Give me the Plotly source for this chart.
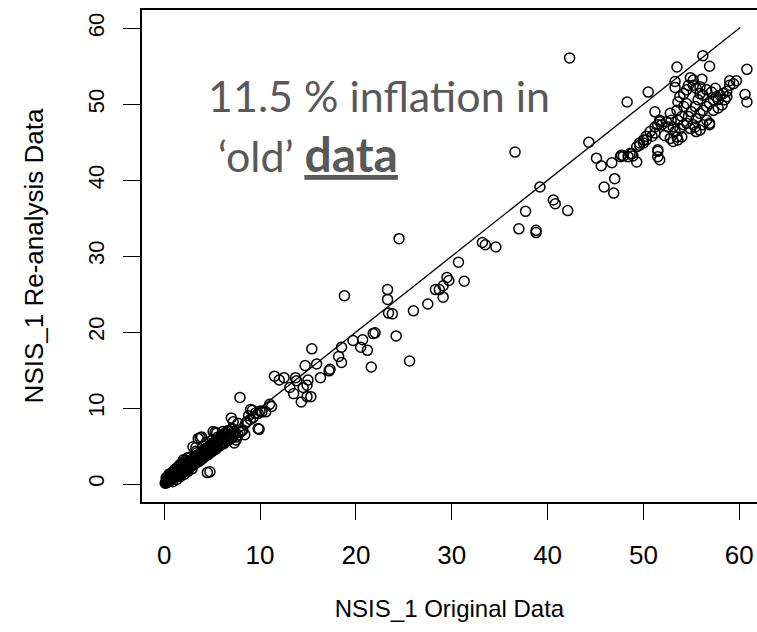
import plotly.graph_objects as go

# NSIS_1 original (x) vs re-analysis (y) values
band_x = [0.1, 0.15, 0.2, 0.25, 0.3, 0.35, 0.4, 0.45, 0.5, 0.55, 0.6, 0.65, 0.7, 0.75, 0.8, 0.85,
          0.9, 0.95, 1.0, 1.05, 1.1, 1.15, 1.2, 1.25, 1.3, 1.35, 1.4, 1.45, 1.5, 1.55, 1.6, 1.65,
          1.7, 1.75, 1.8, 1.85, 1.9, 1.95, 2.0, 2.05, 2.1, 2.15, 2.2, 2.3, 2.35, 2.4, 2.5, 2.55,
          2.6, 2.7, 2.75, 2.8, 2.9, 3.0, 3.05, 3.1, 3.2, 3.25, 3.3, 3.4, 3.45, 3.5, 3.6, 3.65,
          3.7, 3.8, 3.85, 3.9, 4.0, 4.05, 4.1, 4.2, 4.25, 4.3, 4.4, 4.45, 4.5, 4.6, 4.65, 4.7,
          4.8, 4.85, 4.9, 5.0, 5.05, 5.1, 5.2, 5.25, 5.3, 5.4, 5.5, 5.6, 5.7, 5.8, 5.9, 6.0,
          6.1, 6.2, 6.3, 6.4, 6.5, 6.6, 6.7, 6.8, 6.9, 7.0, 7.2, 7.4, 7.5, 7.7, 7.9, 8.1,
          2.5, 3.3, 4.0, 4.4, 5.6, 6.2, 6.6, 7.0, 6.0, 5.0, 3.55, 3.9, 5.47, 5.1, 2.0, 3.0, 4.77,
          8.5, 9.0, 9.5, 10.0, 8.8, 9.3,
          0.3, 0.5, 0.7, 0.9, 1.1, 1.3, 1.5, 1.7, 1.9, 2.1, 2.3, 2.5, 2.7, 2.9, 3.1, 3.3,
          3.5, 3.7, 3.9, 4.1, 4.3, 4.5, 4.7, 4.9, 5.1, 5.3, 5.5, 5.7, 5.9, 6.1, 6.3, 6.5,
          0.6, 1.0, 1.4, 1.8, 2.2, 2.6, 3.0, 3.4, 3.8, 4.2, 4.6, 5.0, 5.4, 5.8, 6.2, 6.6,
          1.2, 1.6, 2.0, 2.4, 2.8, 3.2, 3.6, 4.0, 4.4, 4.8, 5.2, 5.6, 6.0, 6.4, 6.8, 7.1,
          0.2, 0.4, 0.6, 0.8, 1.0, 1.2, 1.4, 1.6, 1.8, 2.0, 2.2, 2.4, 0.9, 1.3, 1.7, 2.1,
          2.5, 2.9, 0.5, 1.1, 1.6, 2.3, 2.8, 3.4]
band_y = [0.1, 0.2, 0.15, 0.3, 0.2, 0.35, 0.3, 0.5, 0.4, 0.45, 0.6, 0.5, 0.7, 0.55, 0.8, 0.65,
          0.9, 0.75, 1.0, 0.85, 1.2, 0.9, 1.1, 1.3, 1.0, 1.2, 1.4, 1.1, 1.5, 1.3, 1.6, 1.2,
          1.5, 1.8, 1.4, 1.7, 1.9, 1.5, 2.2, 1.7, 2.0, 2.4, 1.8, 2.1, 2.6, 1.9, 2.3, 2.8,
          2.1, 2.5, 3.0, 2.3, 2.7, 3.2, 2.5, 2.9, 3.4, 2.7, 3.1, 3.6, 2.9, 3.3, 3.8, 3.0,
          3.4, 4.0, 3.2, 3.6, 4.2, 3.4, 3.8, 4.4, 3.6, 4.0, 4.6, 3.8, 4.2, 4.8, 4.0, 4.4,
          5.0, 4.2, 4.6, 5.2, 4.4, 4.8, 5.4, 4.6, 5.0, 5.5, 4.9, 5.2, 5.7, 5.1, 5.4, 5.9,
          5.3, 5.6, 6.1, 5.5, 5.9, 6.3, 5.8, 6.1, 6.5, 6.0, 6.3, 6.7, 6.2, 6.5, 6.8, 7.0,
          3.5, 4.3, 5.0, 5.5, 6.2, 6.6, 7.0, 7.2, 6.4, 5.8, 6.0, 6.2, 6.7, 6.9, 3.2, 4.9, 1.6,
          8.0, 8.5, 9.3, 9.6, 9.0, 8.8,
          0.6, 0.8, 1.0, 1.2, 1.4, 1.6, 1.8, 2.0, 2.2, 2.4, 2.6, 2.8, 3.0, 3.2, 3.4, 3.6,
          3.8, 4.0, 4.2, 4.4, 4.6, 4.8, 5.0, 5.2, 5.4, 5.6, 5.8, 6.0, 6.2, 6.4, 6.6, 6.8,
          0.4, 0.8, 1.1, 1.5, 1.8, 2.2, 2.5, 2.9, 3.2, 3.6, 3.9, 4.3, 4.6, 5.0, 5.3, 5.7,
          1.4, 1.8, 2.3, 2.7, 3.1, 3.5, 3.9, 4.3, 4.7, 5.1, 5.5, 5.9, 6.3, 6.6, 6.9, 7.3,
          0.8, 1.0, 1.3, 1.5, 1.7, 2.0, 2.2, 2.4, 2.7, 2.9, 3.1, 3.4, 0.3, 0.6, 1.0, 1.3,
          1.7, 2.0, 1.3, 1.9, 2.5, 3.1, 3.6, 4.1]

mid_x = [7.9, 9.8, 9.9, 7.0, 7.2, 8.6, 8.2, 7.7, 8.4, 7.3, 7.5, 6.1, 5.3, 3.75, 3.3, 4.5,
         11.0, 11.2, 10.6, 10.2, 9.8, 9.2, 9.0,
         11.5, 12.0, 12.5, 13.7, 13.8, 15.0, 14.9, 14.5, 13.1, 13.5, 14.3, 14.9, 15.3,
         15.4, 14.7, 15.9, 17.3, 17.2, 16.3, 18.5, 18.2, 18.5, 18.8,
         19.7, 20.7, 20.5, 21.2, 21.6, 22.0, 21.8, 24.2, 25.6, 23.4, 23.8, 23.3, 23.3,
         26.0, 27.5, 29.1, 28.3, 28.7, 29.5, 29.7, 29.1, 31.3, 30.7, 24.5,
         33.2, 33.5, 34.6, 37.0, 38.8, 38.8, 37.7, 40.6, 40.8, 42.1, 39.2, 36.6,
         47.0, 45.9, 46.9, 45.1, 45.6, 46.7, 44.3, 42.3]
mid_y = [11.4, 7.3, 7.2, 8.7, 8.2, 8.2, 7.1, 8.0, 6.5, 5.4, 5.8, 6.9, 6.8, 6.1, 4.8, 1.5,
         10.5, 10.2, 9.5, 9.5, 9.3, 9.7, 9.8,
         14.2, 13.7, 14.0, 14.0, 13.6, 13.7, 13.0, 12.7, 12.7, 11.9, 10.8, 11.5, 11.5,
         17.8, 15.6, 15.8, 15.1, 14.9, 14.0, 18.0, 16.8, 16.0, 24.8,
         18.9, 19.0, 18.0, 17.6, 15.4, 19.9, 19.8, 19.5, 16.2, 22.5, 22.4, 25.6, 24.3,
         22.8, 23.7, 24.6, 25.6, 25.6, 27.2, 26.8, 26.1, 26.7, 29.2, 32.3,
         31.8, 31.5, 31.2, 33.6, 33.4, 33.1, 35.9, 37.4, 36.9, 36.0, 39.1, 43.7,
         40.2, 39.1, 38.3, 42.9, 41.9, 42.3, 45.0, 56.1]

top_x = [56.2, 56.9, 53.5, 60.8, 54.9, 53.3, 53.3, 56.1, 59.0, 59.7, 60.6, 60.8, 50.5, 48.3,
         47.6, 47.7, 48.6, 48.9, 49.3, 49.6, 50.0, 50.3, 50.9, 51.2, 51.5, 51.2, 51.7, 51.5, 51.5,
         52.8, 52.9, 53.1, 53.3, 53.5, 53.6, 54.0, 53.8, 53.6, 53.5, 53.6, 53.8, 54.2, 54.5,
         54.7, 55.2, 55.5, 55.9, 55.7, 55.4, 55.0, 54.7, 54.5, 54.9, 55.2, 55.5, 55.9, 56.2,
         56.6, 56.9, 57.3, 57.6, 58.0, 58.3, 58.7, 58.5, 58.2, 57.8, 57.3, 56.9, 56.6, 56.2,
         55.9, 55.5, 55.4, 54.2, 54.0, 53.1, 52.8, 52.2, 51.9, 51.7, 52.4, 52.6, 54.2, 54.5,
         56.2, 56.6, 57.1, 57.5, 57.8, 58.7, 59.0, 59.4, 51.2, 50.7, 50.3, 50.0, 49.6, 49.3,
         48.8, 48.4, 47.9, 51.5, 51.7, 56.9, 55.9, 55.2]
top_y = [56.4, 55.0, 54.9, 54.6, 53.5, 53.0, 52.2, 53.3, 53.1, 53.1, 51.3, 50.3, 51.6, 50.3,
         43.1, 43.3, 43.5, 43.2, 42.4, 44.6, 44.9, 45.3, 45.8, 46.2, 47.3, 49.0, 47.9, 44.0, 43.1,
         48.8, 47.9, 47.0, 46.4, 45.7, 45.3, 45.7, 46.8, 47.9, 49.2, 50.3, 51.0, 51.4, 51.9,
         52.5, 52.5, 52.1, 51.4, 50.6, 49.7, 49.0, 48.4, 47.5, 46.8, 47.3, 48.1, 48.8, 49.2,
         49.7, 50.1, 50.6, 51.0, 51.2, 51.4, 51.7, 50.6, 49.9, 49.5, 49.2, 47.5, 47.9, 47.3,
         46.6, 46.4, 47.0, 47.3, 48.4, 45.1, 45.5, 45.9, 47.3, 47.7, 47.7, 47.0, 49.7, 50.1,
         51.2, 51.9, 51.6, 52.1, 50.6, 51.0, 52.5, 52.7, 47.0, 46.4, 45.8, 45.3, 44.9, 44.4,
         43.5, 43.1, 43.2, 43.8, 42.7, 47.3, 52.3, 53.2]

original = band_x + mid_x + top_x
reanalysis = band_y + mid_y + top_y

line_x = [0.0, 60.1]
line_y = [0.0, 60.1]

tick_vals = [0, 10, 20, 30, 40, 50, 60]
tick_text = ["0", "10", "20", "30", "40", "50", "60"]

fig = go.Figure()
fig.add_trace(go.Scatter(x=line_x, y=line_y, mode="lines",
                         line=dict(color="black", width=1.3), hoverinfo="skip"))
fig.add_trace(go.Scatter(x=original, y=reanalysis, mode="markers",
                         marker=dict(symbol="circle-open", size=10, color="black",
                                     line=dict(width=1.5, color="black"))))

fam = "Liberation Sans, Arial, sans-serif"
fig.update_layout(
    width=757, height=632,
    margin=dict(l=142, r=0, t=10, b=130),
    paper_bgcolor="white", plot_bgcolor="white",
    showlegend=False,
    xaxis=dict(range=[-2.32, 61.85], tickvals=tick_vals, ticktext=tick_text,
               showgrid=False, zeroline=False, showline=True, mirror=True,
               linecolor="black", linewidth=1.5, ticks="outside", ticklen=16,
               tickwidth=1.3, tickcolor="black",
               tickfont=dict(family=fam, size=26, color="black"),
               ticklabelstandoff=13,
               title=dict(text="NSIS_1 Original Data",
                          font=dict(family=fam, size=24, color="black"), standoff=31)),
    yaxis=dict(range=[-2.37, 62.41], tickvals=tick_vals, ticktext=tick_text,
               showgrid=False, zeroline=False, showline=True, mirror=False,
               linecolor="black", linewidth=1.5, ticks="outside", ticklen=17,
               tickwidth=1.3, tickcolor="black", tickangle=-90,
               tickfont=dict(family=fam, size=22, color="black"),
               ticklabelstandoff=10,
               title=dict(text="NSIS_1 Re-analysis Data",
                          font=dict(family=fam, size=26, color="black"), standoff=33)),
)

note_font = dict(family="Lato, sans-serif", size=43, color="#595959")
fig.add_annotation(xref="paper", yref="paper", x=0.104, y=0.826, xanchor="left",
                   yanchor="middle", text="11.5 % inflation in", showarrow=False,
                   font=note_font)
fig.add_annotation(xref="paper", yref="paper", x=0.12, y=0.708, xanchor="left",
                   yanchor="middle",
                   text="‘old’ <b><u><span style=\"font-size:48px\">data</span></u></b>",
                   showarrow=False, font=note_font)

fig.write_html("out.html")
